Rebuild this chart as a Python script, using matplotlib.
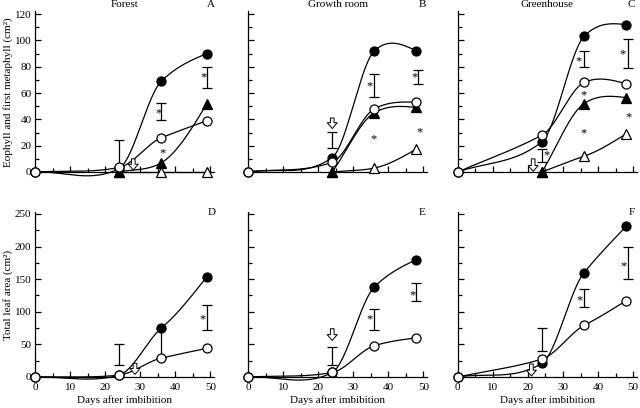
import numpy as np
import matplotlib
matplotlib.use("Agg")
import matplotlib.pyplot as plt
from matplotlib.ticker import MultipleLocator

plt.rcParams['font.family'] = ['Liberation Serif', 'DejaVu Serif']
plt.rcParams['font.size'] = 8

# sampling days (days after imbibition)
days_forest = [0, 24, 36, 49]
days_growth = [0, 24, 36, 48]
days_green = [0, 24, 36, 48]

# top row: eophyll (circles, from day 0) and first metaphyll (triangles, from day 24)
forest_circ_fill = [0, 2.8, 69, 90]
forest_circ_open = [0, 3.5, 26, 39]
forest_tri_fill = [0, 7, 52]
forest_tri_open = [0, 0, 0]

growth_circ_fill = [0, 11, 92, 92]
growth_circ_open = [0, 7.5, 48, 53]
growth_tri_fill = [0, 45, 49]
growth_tri_open = [0, 3, 17.5]

green_circ_fill = [0, 23, 103, 112]
green_circ_open = [0, 28, 68, 67]
green_tri_fill = [0, 52, 56.5]
green_tri_open = [0, 12, 29]

# bottom row: total leaf area
forest_total_fill = [0, 3, 75, 154]
forest_total_open = [0, 3, 29, 44]
growth_total_fill = [0, 7, 138, 180]
growth_total_open = [0, 7, 48, 60]
green_total_fill = [0, 21, 160, 231]
green_total_open = [0, 27.5, 79, 117]

# error bars (x, low, high)
forest_top_err = ([24, 36, 49], [1.5, 39.5, 63.5], [24.3, 52.7, 80])
growth_top_err = ([24, 36, 48.5], [18, 57, 66.6], [30.6, 74.4, 77.5])
green_top_err = ([24, 36, 48.5], [7.7, 79.4, 79], [17.7, 92, 101])
forest_bot_err = ([24, 36, 49], [18, 29, 72.6], [51, 75, 110.5])
growth_bot_err = ([24, 36, 48], [18, 72.6, 117], [45.6, 103.7, 144])
green_bot_err = ([24, 36, 48.5], [39.4, 106.8, 151], [75.7, 135, 200])

# asterisks (x, y)
forest_top_star = [(35.2, 44.6), (36.2, 14), (47.9, 72)]
growth_top_star = [(34.7, 65.3), (47.5, 72), (35.9, 24.8), (48.8, 30)]
green_top_star = [(25.3, 12.9), (34.5, 84.4), (47.1, 89.6), (35.8, 58.3), (35.8, 29.6), (48.6, 41.3)]
forest_bot_star = [(47.7, 88)]
growth_bot_star = [(34.6, 88), (46.8, 125)]
green_bot_star = [(34.8, 117), (47.2, 170)]

# open arrows (x, tail, tip)
forest_top_arrow = (28, 10, 1.5)
growth_top_arrow = (24, 41, 33)
green_top_arrow = (21.5, 10, 0.5)
forest_bot_arrow = (28.5, 21, 4)
growth_bot_arrow = (24, 74, 56)
green_bot_arrow = (21, 20, 1.5)


def smooth(x, y, n=120, tension=0.75):
    # cardinal (Hermite) spline through the points
    x = np.asarray(x, float)
    y = np.asarray(y, float)
    k = len(x)
    sec = np.diff(y) / np.diff(x)
    m = np.zeros(k)
    for i in range(1, k - 1):
        m[i] = tension * (y[i + 1] - y[i - 1]) / (x[i + 1] - x[i - 1])
    m[0] = sec[0]
    m[-1] = (3 * sec[-1] - m[-2]) / 2 if k > 2 else sec[-1]
    xs, ys = [], []
    for i in range(k - 1):
        h = x[i + 1] - x[i]
        t = np.linspace(0, 1, n)
        h00 = 2 * t ** 3 - 3 * t ** 2 + 1
        h10 = t ** 3 - 2 * t ** 2 + t
        h01 = -2 * t ** 3 + 3 * t ** 2
        h11 = t ** 3 - t ** 2
        xs.append(x[i] + t * h)
        ys.append(h00 * y[i] + h10 * h * m[i] + h01 * y[i + 1] + h11 * h * m[i + 1])
    return np.concatenate(xs), np.concatenate(ys)


def draw_series(ax, days, vals, marker, fc):
    xs, ys = smooth(days, vals)
    ax.plot(xs, ys, color='black', lw=0.9, zorder=2, clip_on=False)
    ax.plot(days, vals, ls='none', marker=marker, ms=6.5, mfc=fc, mec='black',
            mew=0.9, zorder=4, clip_on=False)


fig = plt.figure(figsize=(6.4, 4.08), dpi=100)
lefts = [35 / 640, 248 / 640, 457.7 / 640]
w = 179 / 640
top_axes = [fig.add_axes([l, (408 - 172) / 408, w, 160.6 / 408]) for l in lefts]
bot_axes = [fig.add_axes([l, (408 - 377) / 408, w, 165 / 408]) for l in lefts]

titles = ['Forest', 'Growth room', 'Greenhouse']
top_letters = ['A', 'B', 'C']
bot_letters = ['D', 'E', 'F']
letter_x = [0.985, 0.975, 0.97]
days_all = [days_forest, days_growth, days_green]
top_data = [
    (forest_circ_fill, forest_circ_open, forest_tri_fill, forest_tri_open),
    (growth_circ_fill, growth_circ_open, growth_tri_fill, growth_tri_open),
    (green_circ_fill, green_circ_open, green_tri_fill, green_tri_open),
]
bot_data = [
    (forest_total_fill, forest_total_open),
    (growth_total_fill, growth_total_open),
    (green_total_fill, green_total_open),
]
top_err = [forest_top_err, growth_top_err, green_top_err]
bot_err = [forest_bot_err, growth_bot_err, green_bot_err]
top_star = [forest_top_star, growth_top_star, green_top_star]
bot_star = [forest_bot_star, growth_bot_star, green_bot_star]
top_arrow = [forest_top_arrow, growth_top_arrow, green_top_arrow]
bot_arrow = [forest_bot_arrow, growth_bot_arrow, green_bot_arrow]


def decorate(ax, err, stars, arrow):
    ex, lo, hi = [np.asarray(v, float) for v in err]
    ax.errorbar(ex, (lo + hi) / 2, yerr=(hi - lo) / 2, fmt='none', ecolor='black',
                elinewidth=0.9, capsize=3.5, capthick=0.9, zorder=1)
    for sx, sy in stars:
        ax.text(sx, sy, '*', ha='center', va='center', fontsize=9)
    x, tail, tip = arrow
    ax.annotate('', xy=(x, tip), xytext=(x, tail),
                arrowprops=dict(arrowstyle='simple,head_length=0.35,head_width=0.6,tail_width=0.22',
                                fc='white', ec='black', lw=0.7, shrinkA=0, shrinkB=0,
                                mutation_scale=12))


for i in range(3):
    days = days_all[i]
    ax = top_axes[i]
    cf, co, tf, to = top_data[i]
    draw_series(ax, days[1:], to, '^', 'white')
    draw_series(ax, days[1:], tf, '^', 'black')
    draw_series(ax, days, cf, 'o', 'black')
    draw_series(ax, days, co, 'o', 'white')
    decorate(ax, top_err[i], top_star[i], top_arrow[i])
    ax.set_ylim(0, 122)
    ax.yaxis.set_major_locator(MultipleLocator(20))
    ax.yaxis.set_minor_locator(MultipleLocator(10))
    ax.text(0.5, 1.04, titles[i], transform=ax.transAxes, ha='center', va='center')
    ax.text(letter_x[i], 1.04, top_letters[i], transform=ax.transAxes, ha='center', va='center')

    ax = bot_axes[i]
    bf, bo = bot_data[i]
    draw_series(ax, days, bf, 'o', 'black')
    draw_series(ax, days, bo, 'o', 'white')
    decorate(ax, bot_err[i], bot_star[i], bot_arrow[i])
    ax.set_ylim(0, 253)
    ax.yaxis.set_major_locator(MultipleLocator(50))
    ax.yaxis.set_minor_locator(MultipleLocator(25))
    ax.set_xlabel('Days after imbibition', labelpad=2)
    ax.text(letter_x[i], 0.995, bot_letters[i], transform=ax.transAxes, ha='center', va='center')

for row, axes in enumerate([top_axes, bot_axes]):
    for j, ax in enumerate(axes):
        ax.set_xlim(0, 51)
        ax.xaxis.set_major_locator(MultipleLocator(10))
        ax.xaxis.set_minor_locator(MultipleLocator(5))
        for s in ['top', 'right']:
            ax.spines[s].set_visible(False)
        for s in ['left', 'bottom']:
            ax.spines[s].set_linewidth(0.9)
        ax.tick_params(which='major', direction='in', length=4, width=0.9)
        ax.tick_params(which='minor', direction='in', length=3, width=0.9)
        ax.tick_params(axis='x', which='major', pad=4.5)
        ax.tick_params(axis='y', which='major', pad=2.5)
        ax.tick_params(labelbottom=(row == 1), labelleft=(j == 0))

fig.text(8 / 640, (408 - 92) / 408, 'Eophyll and first metaphyll (cm²)', rotation=90,
         ha='center', va='center')
fig.text(8 / 640, (408 - 295) / 408, 'Total leaf area (cm²)', rotation=90,
         ha='center', va='center')

fig.savefig('out.png', dpi=100)
